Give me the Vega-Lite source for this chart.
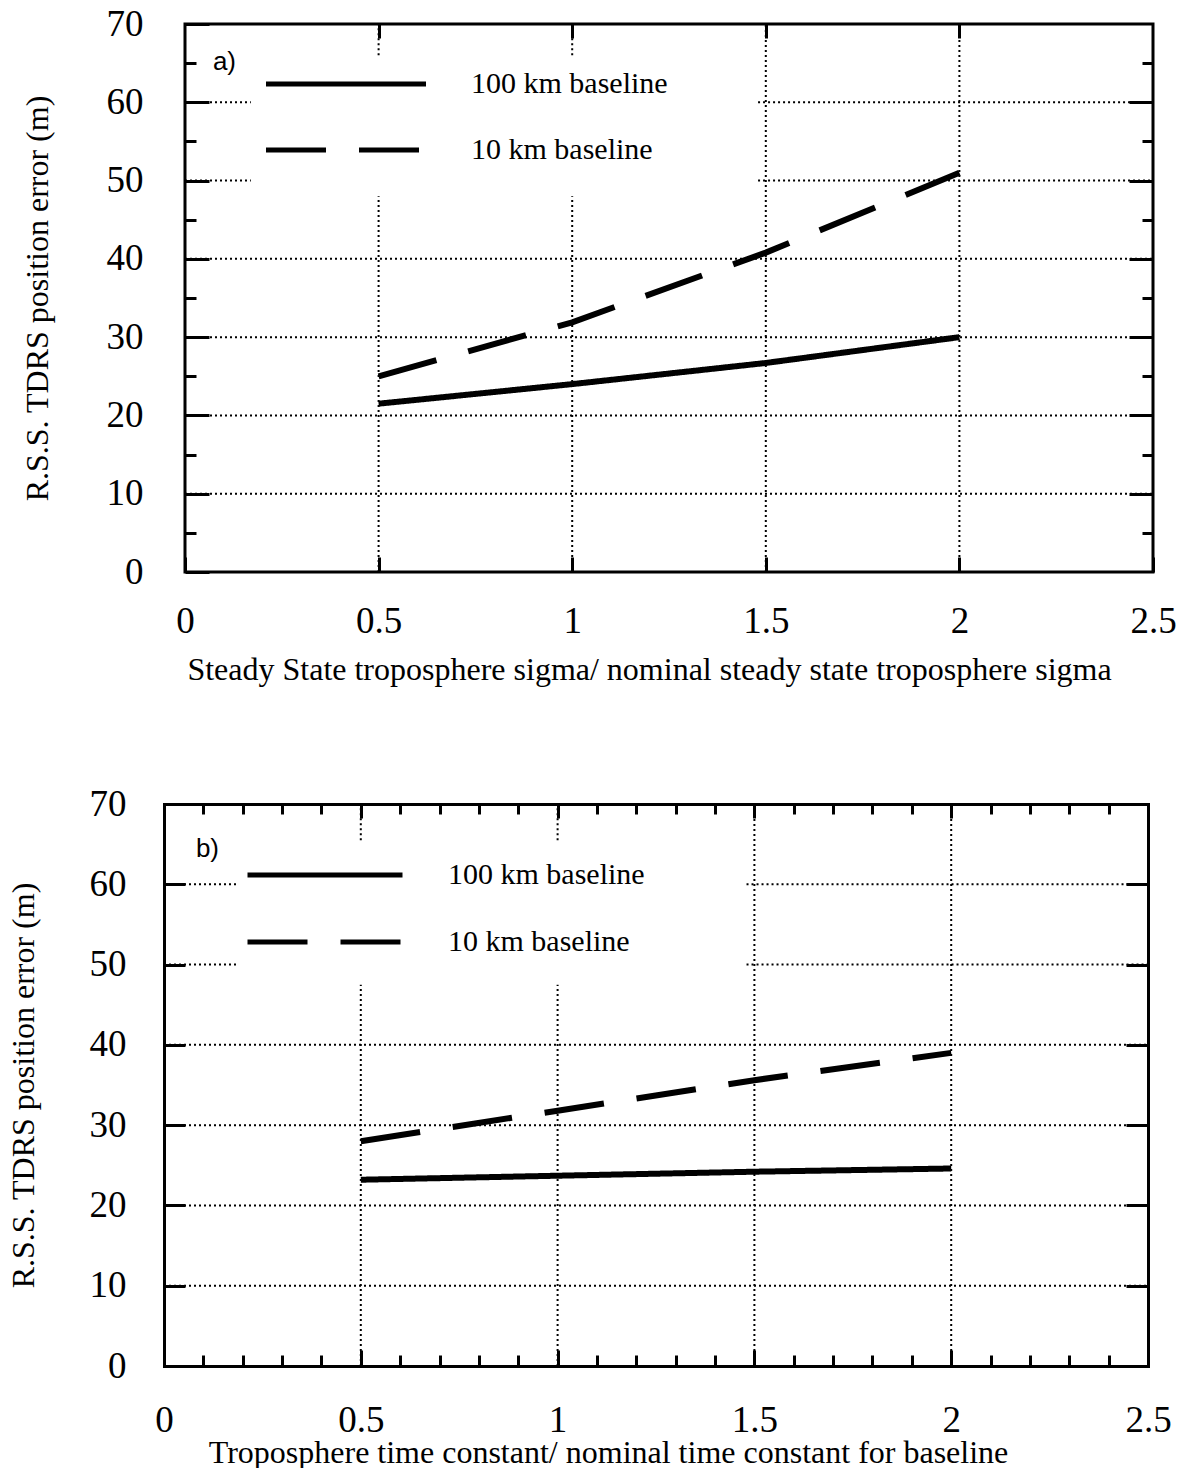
{
  "$schema": "https://vega.github.io/schema/vega-lite/v6.json",
  "background": "white",
  "padding": {"left": 7, "top": 3, "right": 0, "bottom": 0},
  "spacing": 98,
  "resolve": {"scale": {"strokeDash": "independent"}, "legend": {"strokeDash": "independent"}},
  "config": {
    "view": {"stroke": "black", "strokeWidth": 3},
    "axis": {
      "domain": false,
      "grid": false,
      "tickColor": "black",
      "tickWidth": 3,
      "labelFont": "Liberation Serif",
      "labelFontSize": 37,
      "labelColor": "black",
      "labelFlush": false,
      "labelOverlap": false,
      "labelBound": false,
      "titleFont": "Liberation Serif",
      "titleFontSize": 32,
      "titleFontWeight": "normal",
      "titleColor": "black",
      "domainColor": "black",
      "domainWidth": 3,
      "domainCap": "square"
    },
    "legend": {
      "labelFont": "Liberation Serif",
      "labelFontSize": 30,
      "labelColor": "black",
      "labelLimit": 600,
      "symbolStrokeColor": "black",
      "symbolStrokeWidth": 5,
      "symbolSize": 100,
      "padding": 0
    }
  },
  "datasets": {
    "a_lines": [
      {"ratio": 0.5, "error": 21.5, "series": "100 km baseline"},
      {"ratio": 1.0, "error": 24.0, "series": "100 km baseline"},
      {"ratio": 1.5, "error": 26.7, "series": "100 km baseline"},
      {"ratio": 2.0, "error": 30.0, "series": "100 km baseline"},
      {"ratio": 0.5, "error": 25.0, "series": "10 km baseline"},
      {"ratio": 1.0, "error": 31.9, "series": "10 km baseline"},
      {"ratio": 1.5, "error": 40.8, "series": "10 km baseline"},
      {"ratio": 2.0, "error": 51.0, "series": "10 km baseline"}
    ],
    "b_lines": [
      {"ratio": 0.5, "error": 23.2, "series": "100 km baseline"},
      {"ratio": 1.0, "error": 23.7, "series": "100 km baseline"},
      {"ratio": 1.5, "error": 24.2, "series": "100 km baseline"},
      {"ratio": 2.0, "error": 24.6, "series": "100 km baseline"},
      {"ratio": 0.5, "error": 28.0, "series": "10 km baseline"},
      {"ratio": 1.0, "error": 31.8, "series": "10 km baseline"},
      {"ratio": 1.5, "error": 35.6, "series": "10 km baseline"},
      {"ratio": 2.0, "error": 39.0, "series": "10 km baseline"}
    ],
    "a_vgrid": [
      {"gx": 0.5, "y1": 0, "y2": 48},
      {"gx": 0.5, "y1": 66, "y2": 70},
      {"gx": 1.0, "y1": 0, "y2": 48},
      {"gx": 1.0, "y1": 66, "y2": 70},
      {"gx": 1.5, "y1": 0, "y2": 70},
      {"gx": 2.0, "y1": 0, "y2": 70}
    ],
    "a_hgrid": [
      {"gy": 10, "x1": 0, "x2": 2.5},
      {"gy": 20, "x1": 0, "x2": 2.5},
      {"gy": 30, "x1": 0, "x2": 2.5},
      {"gy": 40, "x1": 0, "x2": 2.5},
      {"gy": 50, "x1": 0, "x2": 0.17},
      {"gy": 50, "x1": 1.48, "x2": 2.5},
      {"gy": 60, "x1": 0, "x2": 0.17},
      {"gy": 60, "x1": 1.48, "x2": 2.5}
    ],
    "b_vgrid": [
      {"gx": 0.5, "y1": 0, "y2": 47.5},
      {"gx": 0.5, "y1": 65.5, "y2": 70},
      {"gx": 1.0, "y1": 0, "y2": 47.5},
      {"gx": 1.0, "y1": 65.5, "y2": 70},
      {"gx": 1.5, "y1": 0, "y2": 70},
      {"gx": 2.0, "y1": 0, "y2": 70}
    ],
    "b_hgrid": [
      {"gy": 10, "x1": 0, "x2": 2.5},
      {"gy": 20, "x1": 0, "x2": 2.5},
      {"gy": 30, "x1": 0, "x2": 2.5},
      {"gy": 40, "x1": 0, "x2": 2.5},
      {"gy": 50, "x1": 0, "x2": 0.19},
      {"gy": 50, "x1": 1.48, "x2": 2.5},
      {"gy": 60, "x1": 0, "x2": 0.19},
      {"gy": 60, "x1": 1.48, "x2": 2.5}
    ]
  },
  "vconcat": [
    {
      "width": 968,
      "height": 548,
      "resolve": {"axis": {"x": "independent", "y": "independent"}},
      "layer": [
        {
          "data": {"name": "a_hgrid"},
          "mark": {"type": "rule", "color": "black", "strokeWidth": 2, "strokeDash": [2, 3]},
          "encoding": {
            "x": {"field": "x1", "type": "quantitative", "scale": {"domain": [0, 2.5], "nice": false, "zero": false}, "axis": null},
            "x2": {"field": "x2"},
            "y": {"field": "gy", "type": "quantitative", "scale": {"domain": [0, 70], "nice": false}, "axis": null}
          }
        },
        {
          "data": {"name": "a_vgrid"},
          "mark": {"type": "rule", "color": "black", "strokeWidth": 2, "strokeDash": [2, 3]},
          "encoding": {
            "x": {"field": "gx", "type": "quantitative", "scale": {"domain": [0, 2.5], "nice": false, "zero": false},
                  "axis": {"orient": "top", "values": [0.5, 1, 1.5, 2], "tickSize": -14, "labels": false, "title": null}},
            "y": {"field": "y1", "type": "quantitative", "scale": {"domain": [0, 70], "nice": false},
                  "axis": {"orient": "right", "values": [5, 10, 15, 20, 25, 30, 35, 40, 45, 50, 55, 60, 65],
                           "tickSize": {"condition": {"test": "datum.value % 10 === 0", "value": -24}, "value": -11},
                           "labels": false, "title": null}},
            "y2": {"field": "y2"}
          }
        },
        {
          "data": {"values": [{"panel": "a)"}]},
          "mark": {"type": "text", "font": "Liberation Sans", "fontSize": 26, "align": "left", "baseline": "middle", "color": "black"},
          "encoding": {
            "x": {"datum": 0.072, "type": "quantitative", "scale": {"domain": [0, 2.5], "nice": false, "zero": false}, "axis": null},
            "y": {"datum": 65.1, "type": "quantitative", "scale": {"domain": [0, 70], "nice": false}, "axis": null},
            "text": {"field": "panel"}
          }
        },
        {
          "data": {"name": "a_lines"},
          "mark": {"type": "line", "color": "black", "strokeWidth": 6},
          "encoding": {
            "x": {"field": "ratio", "type": "quantitative", "scale": {"domain": [0, 2.5], "nice": false, "zero": false},
                  "axis": {"orient": "bottom", "values": [0, 0.5, 1, 1.5, 2, 2.5], "format": ".1~f", "tickSize": -15, "labelPadding": 46,
                           "title": "Steady State troposphere sigma/ nominal steady state troposphere sigma", "titlePadding": 15, "titleX": 464}},
            "y": {"field": "error", "type": "quantitative", "scale": {"domain": [0, 70], "nice": false},
                  "axis": {"orient": "left", "values": [0, 5, 10, 15, 20, 25, 30, 35, 40, 45, 50, 55, 60, 65, 70], "format": "d",
                           "tickSize": {"condition": {"test": "datum.value % 10 === 0", "value": -24}, "value": -11},
                           "labelExpr": "datum.value % 10 === 0 ? datum.label : ''",
                           "labelPadding": 66, "title": "R.S.S. TDRS position error (m)", "titlePadding": 52}},
            "strokeDash": {"field": "series", "type": "nominal",
                           "scale": {"domain": ["100 km baseline", "10 km baseline"], "range": [[1, 0], [60, 33]]},
                           "legend": {"orient": "none", "legendX": 146, "legendY": 45, "title": null,
                                      "symbolType": "M-16,0H16", "labelOffset": 110, "rowPadding": 36,
                                      "encode": {"symbols": {"update": {
                                        "strokeDash": [{"test": "datum.value === '10 km baseline'", "value": [54, 14, 54, 14, 6, 60]}, {"value": [1, 0]}]}}}}}
          }
        }
      ]
    },
    {
      "width": 963,
      "height": 562,
      "view": {"stroke": null},
      "resolve": {"axis": {"x": "independent", "y": "independent"}},
      "layer": [
        {
          "data": {"name": "b_hgrid"},
          "mark": {"type": "rule", "color": "black", "strokeWidth": 2, "strokeDash": [2, 3]},
          "encoding": {
            "x": {"field": "x1", "type": "quantitative", "scale": {"domain": [0, 2.5], "nice": false, "zero": false, "range": [-21, 963]}, "axis": null},
            "x2": {"field": "x2"},
            "y": {"field": "gy", "type": "quantitative", "scale": {"domain": [0, 70], "nice": false}, "axis": null}
          }
        },
        {
          "data": {"name": "b_vgrid"},
          "mark": {"type": "rule", "color": "black", "strokeWidth": 2, "strokeDash": [2, 3]},
          "encoding": {
            "x": {"field": "gx", "type": "quantitative", "scale": {"domain": [0, 2.5], "nice": false, "zero": false, "range": [-21, 963]},
                  "axis": {"orient": "top", "domain": true, "values": [0.1, 0.2, 0.3, 0.4, 0.5, 0.6, 0.7, 0.8, 0.9, 1, 1.1, 1.2, 1.3, 1.4, 1.5, 1.6, 1.7, 1.8, 1.9, 2, 2.1, 2.2, 2.3, 2.4],
                           "tickSize": {"condition": {"test": "abs(datum.value*2 - round(datum.value*2)) < 0.01", "value": -14}, "value": -10},
                           "labels": false, "title": null}},
            "y": {"field": "y1", "type": "quantitative", "scale": {"domain": [0, 70], "nice": false},
                  "axis": {"orient": "right", "domain": true, "values": [10, 20, 30, 40, 50, 60], "tickSize": -22, "labels": false, "title": null}},
            "y2": {"field": "y2"}
          }
        },
        {
          "data": {"values": [{"panel": "b)"}]},
          "mark": {"type": "text", "font": "Liberation Sans", "fontSize": 26, "align": "left", "baseline": "middle", "color": "black"},
          "encoding": {
            "x": {"datum": 0.081, "type": "quantitative", "scale": {"domain": [0, 2.5], "nice": false, "zero": false, "range": [-21, 963]}, "axis": null},
            "y": {"datum": 64.4, "type": "quantitative", "scale": {"domain": [0, 70], "nice": false}, "axis": null},
            "text": {"field": "panel"}
          }
        },
        {
          "data": {"name": "b_lines"},
          "mark": {"type": "line", "color": "black", "strokeWidth": 6},
          "encoding": {
            "x": {"field": "ratio", "type": "quantitative", "scale": {"domain": [0, 2.5], "nice": false, "zero": false, "range": [-21, 963]},
                  "axis": {"orient": "bottom", "domain": true, "format": ".1~f",
                           "values": [0, 0.1, 0.2, 0.3, 0.4, 0.5, 0.6, 0.7, 0.8, 0.9, 1, 1.1, 1.2, 1.3, 1.4, 1.5, 1.6, 1.7, 1.8, 1.9, 2, 2.1, 2.2, 2.3, 2.4, 2.5],
                           "tickSize": {"condition": {"test": "abs(datum.value*2 - round(datum.value*2)) < 0.01", "value": -16}, "value": -11},
                           "labelExpr": "abs(datum.value*2 - round(datum.value*2)) < 0.01 ? datum.label : ''",
                           "labelPadding": 52,
                           "title": "Troposphere time constant/ nominal time constant for baseline", "titlePadding": -6, "titleX": 423}},
            "y": {"field": "error", "type": "quantitative", "scale": {"domain": [0, 70], "nice": false},
                  "axis": {"orient": "left", "domain": true, "offset": 21, "values": [0, 10, 20, 30, 40, 50, 60, 70], "format": "d", "tickSize": -21,
                           "labelPadding": 59, "title": "R.S.S. TDRS position error (m)", "titlePadding": 49}},
            "strokeDash": {"field": "series", "type": "nominal",
                           "scale": {"domain": ["100 km baseline", "10 km baseline"], "range": [[1, 0], [60, 33]]},
                           "legend": {"orient": "none", "legendX": 125, "legendY": 56, "title": null,
                                      "symbolType": "M-15.5,0H15.5", "labelOffset": 108, "rowPadding": 37,
                                      "encode": {"symbols": {"update": {
                                        "strokeDash": [{"test": "datum.value === '10 km baseline'", "value": [52, 14, 52, 14, 6, 60]}, {"value": [1, 0]}]}}}}}
          }
        }
      ]
    }
  ]
}
